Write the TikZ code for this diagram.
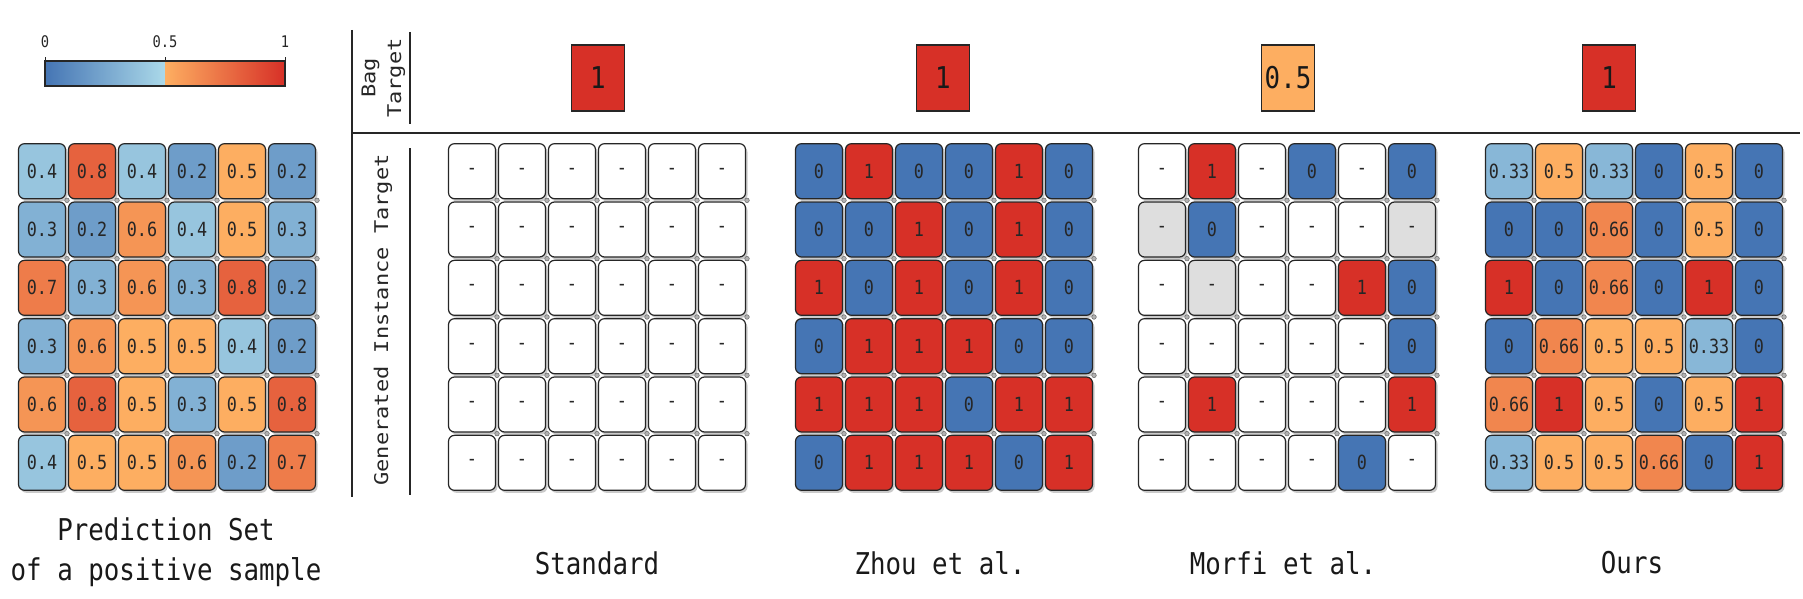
\documentclass[tikz,border=0pt]{standalone}
\usepackage{fontspec}
\usepackage{graphicx}
\usetikzlibrary{shadows}
\newfontfamily\cellfont[FakeStretch=0.86]{DejaVu Sans Mono}
\newfontfamily\rotfont{DejaVu Sans Mono}
\definecolor{cDB}{RGB}{69,117,180}
\definecolor{cLB}{RGB}{171,217,233}
\definecolor{cO}{RGB}{253,174,97}
\definecolor{cR}{RGB}{215,48,39}
\colorlet{v0}{cDB}
\colorlet{v2}{cLB!40!cDB}
\colorlet{v3}{cLB!60!cDB}
\colorlet{v33}{cLB!66!cDB}
\colorlet{v4}{cLB!80!cDB}
\colorlet{v5}{cO}
\colorlet{v6}{cR!20!cO}
\colorlet{v66}{cR!32!cO}
\colorlet{v7}{cR!40!cO}
\colorlet{v8}{cR!60!cO}
\colorlet{v1}{cR}
\colorlet{vw}{white}
\colorlet{vg}{black!13}
\tikzset{
  cell/.style={draw=black!85, line width=1.2pt, rounded corners=6pt,
    minimum width=47pt, minimum height=55pt, inner sep=0pt, text=black!85,
    font=\cellfont\fontsize{19.5}{23}\selectfont,
    drop shadow={shadow xshift=2pt, shadow yshift=-2.5pt, opacity=0.35, fill=black!60}},
  bagbox/.style={draw=black!85, line width=1.2pt, minimum width=53pt, minimum height=66pt,
    inner sep=0pt, text=black!90, font=\cellfont\fontsize{30}{34}\selectfont,
    drop shadow={shadow xshift=0pt, shadow yshift=-1.5pt, opacity=0.3, fill=black!60}},
  lab/.style={font=\cellfont\fontsize{30}{40}\selectfont, align=center, text=black!90},
  ticklab/.style={font=\cellfont\fontsize{16}{18}\selectfont, text=black!85},
  rotlab/.style={rotate=90, font=\rotfont\fontsize{22}{30}\selectfont, text=black!85},
  rule/.style={line width=2.6pt, black!85},
  dotc/.style={fill=black!30, draw=black!60, line width=0.5pt}
}
\newcommand{\cellgrid}[3]{%
  \foreach \row [count=\i] in {#3} {
    \foreach \col/\lab [count=\j] in \row {
      \node[cell, fill=\col] (#1-\i-\j) at ({#2+25+50*(\j-1)}, {142+29.1667+58.3333*(\i-1)}) {\lab};
    }
  }
  \foreach \i in {1,...,5} {
    \foreach \j in {1,...,6} {
      \path[dotc] ({#2+50*\j},{142+58.3333*\i}) circle (2.3);
    }
  }
}
\begin{document}
\begin{tikzpicture}[x=1pt, y=-1pt]
\useasboundingbox (0,0) rectangle (1803,599);

% colour bar
\shade[left color=cDB, right color=cLB] (45,61) rectangle (165,86);
\shade[left color=cO, right color=cR] (165,61) rectangle (285,86);
\draw[line width=1.2pt, black!85] (45,61) rectangle (285,86);
\draw[line width=1pt, black!85] (45,61) -- (45,57) (165,61) -- (165,57) (285,61) -- (285,57);
\node[ticklab] (tick0) at (45,42) {0};
\node[ticklab] (tick05) at (165,42) {0.5};
\node[ticklab] (tick1) at (285,42) {1};

% rules
\draw[rule] (352,30) -- (352,497);
\draw[rule] (352,133) -- (1800,133);
\draw[line width=2.2pt, black!85] (410,32) -- (410,124);
\draw[line width=2.2pt, black!85] (410,148) -- (410,495);

\node[rotlab, align=center] (bagtarget) at (383,78) {\scalebox{1}[0.86]{\begin{tabular}{@{}c@{}}Bag\\Target\end{tabular}}};
\node[rotlab] (gentarget) at (383,320) {\scalebox{1}[0.86]{Generated Instance Target}};

% bag targets
\node[bagbox, fill=cR] (bag-std) at (598,78) {1};
\node[bagbox, fill=cR] (bag-zhou) at (943,78) {1};
\node[bagbox, fill=cO] (bag-morfi) at (1288,78) {0.5};
\node[bagbox, fill=cR] (bag-ours) at (1609,78) {1};

% prediction set
\cellgrid{pred}{17}{
 {v4/0.4,v8/0.8,v4/0.4,v2/0.2,v5/0.5,v2/0.2},
 {v3/0.3,v2/0.2,v6/0.6,v4/0.4,v5/0.5,v3/0.3},
 {v7/0.7,v3/0.3,v6/0.6,v3/0.3,v8/0.8,v2/0.2},
 {v3/0.3,v6/0.6,v5/0.5,v5/0.5,v4/0.4,v2/0.2},
 {v6/0.6,v8/0.8,v5/0.5,v3/0.3,v5/0.5,v8/0.8},
 {v4/0.4,v5/0.5,v5/0.5,v6/0.6,v2/0.2,v7/0.7}}

% standard
\cellgrid{std}{447}{
 {vw/-,vw/-,vw/-,vw/-,vw/-,vw/-},
 {vw/-,vw/-,vw/-,vw/-,vw/-,vw/-},
 {vw/-,vw/-,vw/-,vw/-,vw/-,vw/-},
 {vw/-,vw/-,vw/-,vw/-,vw/-,vw/-},
 {vw/-,vw/-,vw/-,vw/-,vw/-,vw/-},
 {vw/-,vw/-,vw/-,vw/-,vw/-,vw/-}}

% Zhou et al.
\cellgrid{zhou}{794}{
 {v0/0,v1/1,v0/0,v0/0,v1/1,v0/0},
 {v0/0,v0/0,v1/1,v0/0,v1/1,v0/0},
 {v1/1,v0/0,v1/1,v0/0,v1/1,v0/0},
 {v0/0,v1/1,v1/1,v1/1,v0/0,v0/0},
 {v1/1,v1/1,v1/1,v0/0,v1/1,v1/1},
 {v0/0,v1/1,v1/1,v1/1,v0/0,v1/1}}

% Morfi et al.
\cellgrid{morfi}{1137}{
 {vw/-,v1/1,vw/-,v0/0,vw/-,v0/0},
 {vg/-,v0/0,vw/-,vw/-,vw/-,vg/-},
 {vw/-,vg/-,vw/-,vw/-,v1/1,v0/0},
 {vw/-,vw/-,vw/-,vw/-,vw/-,v0/0},
 {vw/-,v1/1,vw/-,vw/-,vw/-,v1/1},
 {vw/-,vw/-,vw/-,vw/-,v0/0,vw/-}}

% Ours
\cellgrid{ours}{1484}{
 {v33/0.33,v5/0.5,v33/0.33,v0/0,v5/0.5,v0/0},
 {v0/0,v0/0,v66/0.66,v0/0,v5/0.5,v0/0},
 {v1/1,v0/0,v66/0.66,v0/0,v1/1,v0/0},
 {v0/0,v66/0.66,v5/0.5,v5/0.5,v33/0.33,v0/0},
 {v66/0.66,v1/1,v5/0.5,v0/0,v5/0.5,v1/1},
 {v33/0.33,v5/0.5,v5/0.5,v66/0.66,v0/0,v1/1}}

% labels
\node[lab] (lab-pred) at (166,552) {Prediction Set\\of a positive sample};
\node[lab] (lab-std) at (597,563) {Standard};
\node[lab] (lab-zhou) at (940,563) {Zhou et al.};
\node[lab] (lab-morfi) at (1283,563) {Morfi et al.};
\node[lab] (lab-ours) at (1632,563) {Ours};
\end{tikzpicture}
\end{document}
